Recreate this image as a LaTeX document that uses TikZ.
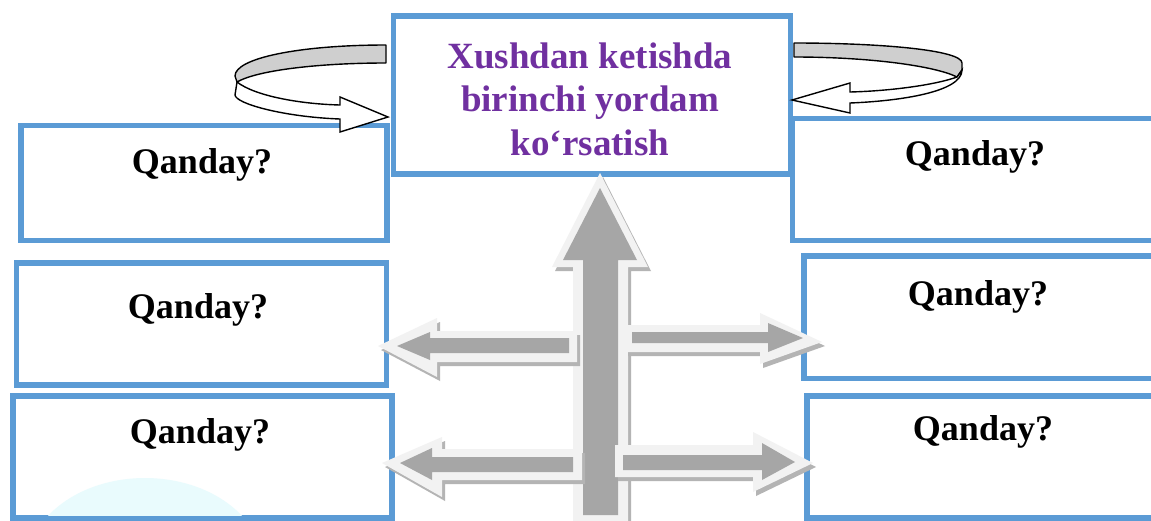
\documentclass[tikz,border=0pt]{standalone}
\usepackage{fontspec}
\setmainfont{Liberation Serif}
\definecolor{boxblue}{HTML}{5B9BD5}
\definecolor{titlepurple}{HTML}{7030A0}
\definecolor{arrgray}{HTML}{A6A6A6}
\definecolor{arrlight}{HTML}{F2F2F2}
\definecolor{arrshadow}{HTML}{B4B4B4}
\definecolor{ribbongray}{HTML}{CFCFCF}
\definecolor{blobcyan}{HTML}{E9FBFD}
\begin{document}
\begin{tikzpicture}[x=1pt,y=-1pt,
  qbox/.style={draw=boxblue, line width=5.5pt, fill=white, inner sep=0pt, rectangle},
  qtext/.style={font=\bfseries\fontsize{36}{43}\selectfont, inner sep=0pt, anchor=base},
  ctitle/.style={font=\bfseries\fontsize{37}{43.5}\selectfont, text=titlepurple, align=center, inner sep=0pt},
  arrbody/.style={fill=arrgray},
  arredge/.style={fill=arrlight},
  arrshade/.style={fill=arrshadow},
  ribbonback/.style={fill=ribbongray, draw=black, line width=1.4pt, line join=round},
  ribbonfront/.style={fill=white, draw=black, line width=1.4pt, line join=miter}]
\useasboundingbox (0,0) rectangle (1151,520);
\fill[white] (0,0) rectangle (1151,520);

% boxes
\node[qbox, minimum width=366, minimum height=115] (l1) at (204,183) {};
\node[qbox, minimum width=370, minimum height=122] (r1) at (977.5,179.5) {};
\node[qbox, minimum width=370, minimum height=122] (l2) at (201.5,324) {};
\node[qbox, minimum width=356, minimum height=122.5] (r2) at (982,317) {};
\node[qbox, minimum width=379, minimum height=122] (l3) at (202.5,457) {};
\node[qbox, minimum width=353, minimum height=122] (r3) at (983.5,457) {};
\begin{scope}
  \clip (16,399) rectangle (389,515.2);
  \fill[blobcyan] (145,566) ellipse [x radius=118, y radius=88];
\end{scope}
\node[qbox, minimum width=397, minimum height=158] (c) at (592,95) {};

\node[qtext] (t1) at (202,173) {Qanday?};
\node[qtext] (t2) at (975,165) {Qanday?};
\node[qtext] (t3) at (198,318) {Qanday?};
\node[qtext] (t4) at (978,305) {Qanday?};
\node[qtext] (t5) at (200,443) {Qanday?};
\node[qtext] (t6) at (983,440) {Qanday?};
\node[ctitle] (ct) at (590,99) {Xushdan ketishda\\birinchi yordam\\ko‘rsatish};

% vertical block arrow
\fill[arrshade, shift={(3,4)}] (600,173) -- (648,267) -- (628,267) -- (628,522) -- (573,522) -- (573,267) -- (552,267) -- cycle;
\fill[arredge] (600,173) -- (648,267) -- (628,267) -- (628,522) -- (573,522) -- (573,267) -- (552,267) -- cycle;
\fill[arrbody] (600,188) -- (637,260) -- (618,260) -- (618,515) -- (583,515) -- (583,260) -- (563,260) -- cycle;

% upper left
\fill[arrshade, shift={(3,4)}] (378,346) -- (437,318) -- (437,331) -- (577,331) -- (577,362) -- (437,362) -- (437,377) -- cycle;
\fill[arredge] (378,346) -- (437,318) -- (437,331) -- (577,331) -- (577,362) -- (437,362) -- (437,377) -- cycle;
\fill[arrbody] (397,346) -- (430,332) -- (430,338) -- (569,338) -- (569,353) -- (430,353) -- (430,360) -- cycle;
% upper right
\fill[arrshade, shift={(3,4)}] (822,342) -- (760,313) -- (760,325) -- (625,325) -- (625,352) -- (760,352) -- (760,364) -- cycle;
\fill[arredge] (822,342) -- (760,313) -- (760,325) -- (625,325) -- (625,352) -- (760,352) -- (760,364) -- cycle;
\fill[arrbody] (803,338) -- (768,323) -- (768,332) -- (632,332) -- (632,343) -- (768,343) -- (768,352) -- cycle;
% lower left
\fill[arrshade, shift={(3,4)}] (382,463) -- (442,437) -- (442,449) -- (582,449) -- (582,480) -- (442,480) -- (442,497) -- cycle;
\fill[arredge] (382,463) -- (442,437) -- (442,449) -- (582,449) -- (582,480) -- (442,480) -- (442,497) -- cycle;
\fill[arrbody] (400,463) -- (432,448) -- (432,457) -- (573,457) -- (573,472) -- (432,472) -- (432,480) -- cycle;
% lower right
\fill[arrshade, shift={(3,4)}] (813,463) -- (753,432) -- (753,445) -- (615,445) -- (615,477) -- (753,477) -- (753,492) -- cycle;
\fill[arredge] (813,463) -- (753,432) -- (753,445) -- (615,445) -- (615,477) -- (753,477) -- (753,492) -- cycle;
\fill[arrbody] (795,462) -- (762,443) -- (762,455) -- (623,455) -- (623,470) -- (762,470) -- (762,480) -- cycle;

% left curly arrow
\path[ribbonback] (386,45) .. controls (300,45) and (235,58) .. (235,76) -- (237,82) .. controls (258,70) and (320,63) .. (386,63) -- cycle;
\path[ribbonfront] (237,82) .. controls (255,96) and (300,104) .. (340,105) -- (340,97) -- (388,117) -- (340,132) -- (340,119) .. controls (285,117) and (236,104) .. (235,95) -- cycle;
% right curly arrow
\path[ribbonback] (794,43) .. controls (880,43) and (962,50) .. (962,63) -- (962,70) -- (957,77) .. controls (935,66) and (870,57) .. (794,57) -- cycle;
\path[ribbonfront] (957,77) .. controls (935,85) and (890,91) .. (850,92) -- (850,83) -- (792,100) -- (850,113) -- (850,103) .. controls (900,101) and (962,92) .. (962,70) -- cycle;
\end{tikzpicture}
\end{document}
